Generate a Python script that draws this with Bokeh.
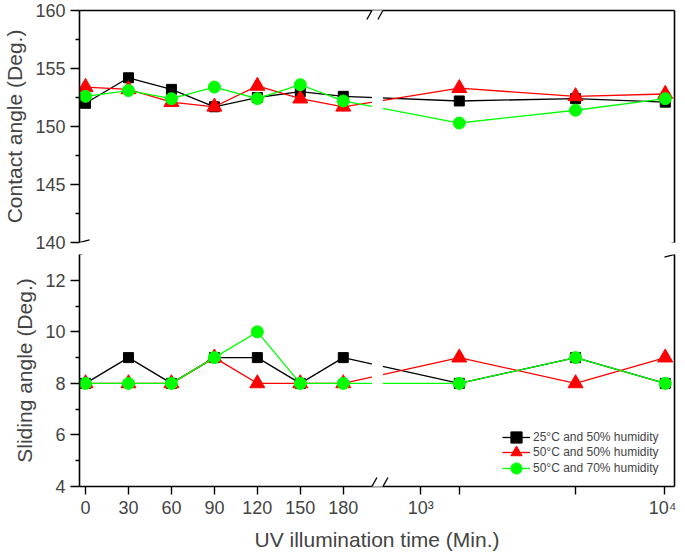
import numpy as np
from bokeh.plotting import figure
from bokeh.layouts import column
from bokeh.models import (FixedTicker, LinearAxis, Range1d, BoxAnnotation, Arrow,
                          Legend, LegendItem)
from bokeh.embed import file_html
from bokeh.resources import INLINE

# ---------------- data ----------------
time_min = [0, 30, 60, 90, 120, 150, 180, 1440, 4320, 10080]
ca_25_50 = [152.0, 154.2, 153.2, 151.7, 152.5, 153.0, 152.6, 152.2, 152.4, 152.1]
ca_50_50 = [153.4, 153.2, 152.1, 151.7, 153.5, 152.4, 151.7, 153.3, 152.6, 152.8]
ca_50_70 = [152.6, 153.1, 152.4, 153.4, 152.4, 153.6, 152.2, 150.3, 151.4, 152.4]
sa_25_50 = [8, 9, 8, 9, 9, 8, 9, 8, 9, 8]
sa_50_50 = [8, 8, 8, 9, 8, 8, 8, 9, 8, 9]
sa_50_70 = [8, 8, 8, 9, 10, 8, 8, 8, 9, 8]
series_labels = ["25°C and 50% humidity", "50°C and 50% humidity", "50°C and 70% humidity"]
x_tick_values = [0, 30, 60, 90, 120, 150, 180, 1000, 1440, 4320, 10000]
x_tick_labels = ["0", "30", "60", "90", "120", "150", "180", "10³", "", "", "10⁴"]
ca_ticks = [140, 145, 150, 155, 160]
ca_minor = [142.5, 147.5, 152.5, 157.5]
sa_ticks = [4, 6, 8, 10, 12]
sa_minor = [5, 7, 9, 11]

# ---------------- broken x axis: linear part then log part ----------------
LIN_END = 200.0
LOG_START = 700.0
GAP_U = 7.7
DECADE_U = 170.2


def to_u(t):
    t = float(t)
    if t <= LIN_END:
        return t
    return round(LIN_END + GAP_U + (np.log10(t) - np.log10(LOG_START)) * DECADE_U, 4)


u_data = [to_u(t) for t in time_min]
u_ticks = [round(to_u(t), 4) for t in x_tick_values]
X0, X1 = -4.2, to_u(11000)

FONT = "Liberation Sans"
W = 676
COLORS = ["black", "#ff0000", "#00ff00"]
MARKERS = ["square", "triangle", "circle"]
SIZES = [10, 15, 12]


def base_fig(height, y0, y1, mb_top, mb_bottom, x_loc):
    p = figure(width=W, height=height, x_range=Range1d(X0, X1), y_range=Range1d(y0, y1),
               output_backend="svg", toolbar_location=None, x_axis_location=x_loc,
               min_border_left=76, min_border_right=2, min_border_top=mb_top,
               min_border_bottom=mb_bottom)
    p.grid.visible = False
    p.outline_line_color = None
    p.background_fill_color = "white"
    p.border_fill_color = "white"
    return p


def style_y(ax, ticks, minor, label):
    ax.ticker = FixedTicker(ticks=ticks, minor_ticks=minor)
    ax.axis_label = label
    ax.axis_label_text_font = FONT
    ax.axis_label_text_font_size = "21px"
    ax.axis_label_text_font_style = "normal"
    ax.axis_label_standoff = 6
    ax.major_label_text_font = FONT
    ax.major_label_text_font_size = "18px"
    ax.major_label_standoff = 5
    ax.major_tick_in = 0
    ax.major_tick_out = 9
    ax.minor_tick_in = 0
    ax.minor_tick_out = 4
    ax.axis_line_width = 1.6
    ax.major_tick_line_width = 1.4
    ax.minor_tick_line_width = 1.4


def plain_axis(ax):
    ax.ticker = FixedTicker(ticks=[])
    ax.major_tick_out = 0
    ax.major_tick_in = 0
    ax.minor_tick_out = 0
    ax.minor_tick_in = 0
    ax.major_label_standoff = 0
    ax.axis_label_standoff = 0
    ax.axis_line_width = 1.6
    ax.major_label_text_font_size = "1px"


def draw_series(p, ys_list):
    items = []
    for ys, c, m, s, lab in zip(ys_list, COLORS, MARKERS, SIZES, series_labels):
        r_line = p.line(u_data, ys, line_color=c, line_width=1.3)
        r_pts = p.scatter(u_data, ys, marker=m, size=s, fill_color=c, line_color=c)
        items.append(LegendItem(label=lab, renderers=[r_line, r_pts]))
    return items


def slash(p, xa, ya, xb, yb, color="black", width=1.3):
    p.add_layout(Arrow(end=None, x_start=xa, y_start=ya, x_end=xb, y_end=yb,
                       line_color=color, line_width=width))


# ---------------- top panel: contact angle ----------------
p1 = base_fig(252, 140, 160, 10, 10, "above")
plain_axis(p1.xaxis[0])
style_y(p1.yaxis[0], ca_ticks, ca_minor, "Contact angle (Deg.)")
r1 = LinearAxis()
plain_axis(r1)
p1.add_layout(r1, "right")
draw_series(p1, [ca_25_50, ca_50_50, ca_50_70])

# ---------------- bottom panel: sliding angle ----------------
p2 = base_fig(301, 4, 13, 2, 40, "below")
xa = p2.xaxis[0]
xa.ticker = FixedTicker(ticks=u_ticks, minor_ticks=[])
xa.major_label_overrides = {k: v for k, v in zip(u_ticks, x_tick_labels)}
xa.axis_label = "UV illumination time (Min.)"
xa.axis_label_text_font = FONT
xa.axis_label_text_font_size = "21px"
xa.axis_label_text_font_style = "normal"
xa.axis_label_standoff = 7
xa.major_label_text_font = FONT
xa.major_label_text_font_size = "18px"
xa.major_label_standoff = 3
xa.major_tick_in = 0
xa.major_tick_out = 8
xa.minor_tick_out = 0
xa.minor_tick_in = 0
xa.axis_line_width = 1.6
xa.major_tick_line_width = 1.4
style_y(p2.yaxis[0], sa_ticks, sa_minor, "Sliding angle (Deg.)")
r2 = LinearAxis()
plain_axis(r2)
p2.add_layout(r2, "right")
items = draw_series(p2, [sa_25_50, sa_50_50, sa_50_70])

# one legend per entry so rows can sit closer than the glyph box height
for item, vy in zip(items, [35, 20, 4]):
    lg = Legend(items=[item], location=(423, vy))
    lg.label_text_font = FONT
    lg.label_text_font_size = "12px"
    lg.label_height = 15
    lg.glyph_height = 28
    lg.glyph_width = 28
    lg.label_standoff = 3
    lg.padding = 0
    lg.margin = 0
    lg.border_line_color = None
    lg.background_fill_alpha = 0
    p2.add_layout(lg)

# ---------------- break decorations ----------------
g0, g1 = to_u(LIN_END), to_u(LOG_START)
for p, yedge, dy in [(p1, 160, 0.78), (p2, 4, 0.35)]:
    p.add_layout(BoxAnnotation(left=g0, right=g1, fill_color="white", fill_alpha=1,
                               line_alpha=0))
    slash(p, g0, yedge, g1, yedge, color="white", width=5)
    for gc in (g0, g1):
        slash(p, gc - 3.5, yedge - dy, gc + 3.5, yedge + dy)

for p, yedge, dy in [(p1, 140, 0.22), (p2, 13, 0.1)]:
    for xe in (X0, X1):
        slash(p, xe - 7, yedge - dy, xe + 7, yedge + dy)

layout = column(p1, p2)
open("out.html", "w").write(file_html(layout, INLINE))
